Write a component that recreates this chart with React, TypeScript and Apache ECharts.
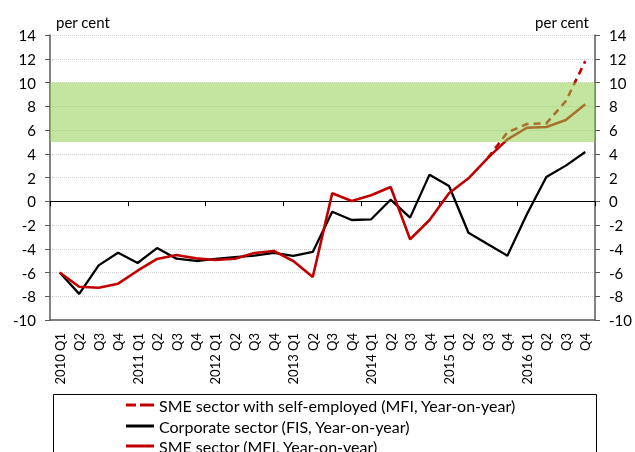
import React, { useEffect, useRef } from "react";
import * as echarts from "echarts";

const categories = [
  "2010 Q1", "Q2", "Q3", "Q4",
  "2011 Q1", "Q2", "Q3", "Q4",
  "2012 Q1", "Q2", "Q3", "Q4",
  "2013 Q1", "Q2", "Q3", "Q4",
  "2014 Q1", "Q2", "Q3", "Q4",
  "2015 Q1", "Q2", "Q3", "Q4",
  "2016 Q1", "Q2", "Q3", "Q4",
];

const smeSelfEmployed: (number | null)[] = [
  null, null, null, null, null, null, null, null, null, null, null, null, null, null,
  null, null, null, null, null, null, null, null, 3.65, 5.8, 6.5, 6.56, 8.43, 11.8,
];

const corporate = [
  -6.0, -7.8, -5.4, -4.33, -5.2, -3.94, -4.84, -5.03, -4.86, -4.7, -4.58, -4.35, -4.6, -4.27,
  -0.88, -1.58, -1.52, 0.13, -1.38, 2.24, 1.28, -2.65, -3.62, -4.58, -1.1, 2.04, 3.0, 4.15,
];

const smeSector = [
  -6.0, -7.2, -7.28, -6.94, -5.85, -4.86, -4.53, -4.81, -4.95, -4.84, -4.36, -4.19, -5.03, -6.38,
  0.67, 0.02, 0.5, 1.2, -3.2, -1.58, 0.67, 1.93, 3.65, 5.21, 6.19, 6.25, 6.84, 8.16,
];

const targetBand = [5, 10];

const seriesNames = [
  "SME sector with self-employed (MFI, Year-on-year)",
  "Corporate sector (FIS, Year-on-year)",
  "SME sector (MFI, Year-on-year)",
];

const yMin = -10;
const yMax = 14;
const yStep = 2;
const unitLabel = "per cent";

const FONT = "Lato, 'Open Sans', sans-serif";

const ICON_DASHED = "path://M0,0h10v3h-10z M14,0h14v3h-14z";
const ICON_SOLID = "path://M0,0h28v3h-28z";

export default function App() {
  const ref = useRef<HTMLDivElement>(null);

  useEffect(() => {
    if (!ref.current) return;
    const chart = echarts.init(ref.current, undefined, { renderer: "svg" });
    const axisGray = "#595959";
    const yAxisCommon = {
      type: "value" as const,
      min: yMin,
      max: yMax,
      interval: yStep,
      axisLine: { show: true, lineStyle: { color: axisGray, width: 1.5 } },
      axisTick: { show: true, length: 5, lineStyle: { color: axisGray } },
      axisLabel: { color: "#000", fontSize: 15, fontFamily: FONT, margin: 14 },
      name: unitLabel,
      nameLocation: "end" as const,
      nameGap: 6,
    };
    const legendTops = [397, 418, 438];
    const icons = [ICON_DASHED, ICON_SOLID, ICON_SOLID];
    const legends = seriesNames.map((n, i) => ({
      orient: "horizontal",
      left: 126,
      top: legendTops[i],
      itemWidth: 28,
      itemHeight: 3,
      padding: 0,
      selectedMode: false,
      textStyle: { fontSize: 16, color: "#000", fontFamily: FONT, lineHeight: 16 },
      data: [{ name: n, icon: icons[i] }],
    }));
    chart.setOption({
      animation: false,
      textStyle: { fontFamily: FONT },
      grid: { left: 50, right: 40, top: 35, bottom: 132, containLabel: false },
      legend: legends,
      xAxis: [
        {
          type: "category",
          data: categories,
          boundaryGap: true,
          axisLine: { show: true, onZero: true, lineStyle: { color: "#000", width: 1.2 } },
          axisTick: { show: true, length: 5, inside: false, lineStyle: { color: "#000" } },
          axisLabel: { show: false },
          splitLine: { show: false },
        },
        {
          type: "category",
          data: categories,
          position: "bottom",
          boundaryGap: true,
          axisLine: { show: true, onZero: false, lineStyle: { color: axisGray, width: 1.5 } },
          axisTick: { show: false },
          axisLabel: {
            interval: 0,
            rotate: 90,
            color: "#000",
            fontSize: 13,
            fontFamily: FONT,
            margin: 13,
          },
        },
      ],
      yAxis: [
        {
          ...yAxisCommon,
          position: "left",
          splitLine: { show: true, lineStyle: { color: "#d0d0d0", type: "dotted", width: 1 } },
          nameTextStyle: { align: "left", fontSize: 15, color: "#000", fontFamily: FONT, padding: [0, 0, 0, 6] },
        },
        {
          ...yAxisCommon,
          position: "right",
          splitLine: { show: false },
          nameTextStyle: { align: "right", fontSize: 15, color: "#000", fontFamily: FONT, padding: [0, 6, 0, 0] },
        },
      ],
      series: [
        {
          name: seriesNames[0],
          type: "line",
          data: smeSelfEmployed,
          symbol: "none",
          lineStyle: { color: "#c00000", width: 2.6, type: [7, 5] },
          itemStyle: { color: "#c00000" },
          z: 2,
        },
        {
          name: seriesNames[1],
          type: "line",
          data: corporate,
          symbol: "none",
          lineStyle: { color: "#000000", width: 2.3 },
          itemStyle: { color: "#000000" },
          z: 3,
        },
        {
          name: seriesNames[2],
          type: "line",
          data: smeSector,
          symbol: "none",
          lineStyle: { color: "#c00000", width: 2.6 },
          itemStyle: { color: "#c00000" },
          z: 4,
        },
        {
          type: "custom",
          z: 10,
          silent: true,
          data: [[0, targetBand[0], targetBand[1]]],
          renderItem: (params: any, api: any) => {
            const cs = params.coordSys;
            const yLow = api.coord([0, api.value(1)])[1];
            const yHigh = api.coord([0, api.value(2)])[1];
            return {
              type: "rect",
              shape: { x: cs.x, y: yHigh, width: cs.width, height: yLow - yHigh },
              style: { fill: "rgba(146,208,80,0.55)" },
            };
          },
        },
      ],
      graphic: [
        {
          type: "rect",
          left: 51,
          top: 392,
          shape: { width: 543, height: 80 },
          style: { fill: "none", stroke: "#000", lineWidth: 1 },
          silent: true,
        },
      ],
    });
    return () => chart.dispose();
  }, []);

  return (
    <div
      ref={ref}
      style={{ position: "fixed", left: 0, top: 0, width: 635, height: 452 }}
    />
  );
}
